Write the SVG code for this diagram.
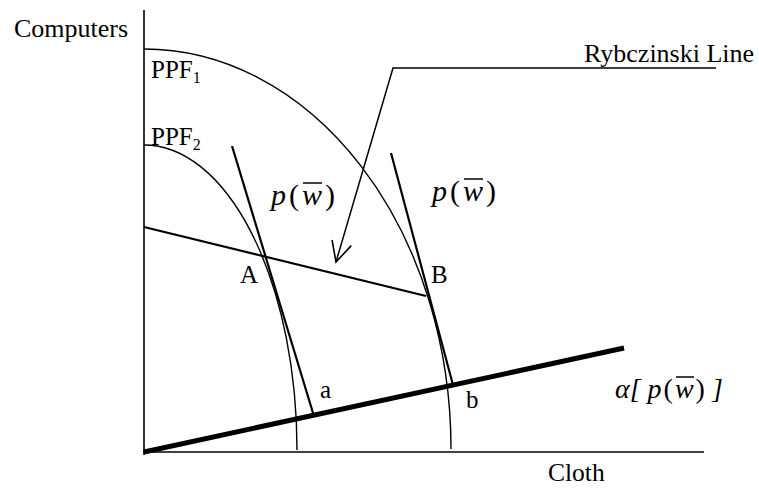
<svg xmlns="http://www.w3.org/2000/svg" width="759" height="489" viewBox="0 0 759 489">
<style>
  .t { font-family: "Liberation Serif", "Times New Roman", serif; fill: #000; }
  .lbl { font-size: 25px; }
  .big { font-size: 26px; }
  .sub { font-size: 16px; }
  .eq { font-size: 30px; font-style: italic; }
  .up { font-style: normal; }
  .ln { fill: none; stroke: #000; stroke-linecap: butt; }
  .axis { stroke-width: 1.6; }
  .curve { stroke-width: 1.4; }
  .med { stroke-width: 2.2; }
  .thick { stroke-width: 5; }
  .thin { stroke-width: 1.5; }
</style>
<defs>
  <marker id="openArrow" viewBox="0 0 24 22" refX="22" refY="11" markerWidth="24" markerHeight="22" markerUnits="userSpaceOnUse" orient="auto">
    <path d="M2,1 L22,11 L2,21" fill="none" stroke="#000" stroke-width="1.6"/>
  </marker>
</defs>
<rect width="759" height="489" fill="#fff"/>

<g id="axes">
  <line class="ln axis" x1="144" y1="10" x2="144" y2="455"/>
  <line class="ln axis" x1="143" y1="452" x2="704" y2="452"/>
  <text class="t big" x="14" y="37">Computers</text>
  <text class="t lbl" x="548" y="481" style="font-size:25.5px">Cloth</text>
</g>

<g id="ppf1">
  <path class="ln curve" d="M144,49 A307,400 0 0 1 451,449"/>
  <text class="t lbl" x="151" y="78">PPF<tspan class="sub" dy="5">1</tspan></text>
</g>

<g id="ppf2">
  <path class="ln curve" d="M144,145 A153,305 0 0 1 297,450"/>
  <text class="t lbl" x="151" y="145">PPF<tspan class="sub" dy="5">2</tspan></text>
</g>

<g id="point-A">
  <text class="t lbl" x="240" y="283">A</text>
</g>
<g id="point-B">
  <text class="t lbl" x="431" y="283">B</text>
</g>
<g id="point-a">
  <text class="t lbl" x="320" y="398">a</text>
</g>
<g id="point-b">
  <text class="t lbl" x="466" y="408">b</text>
</g>

<g id="price-label-1">
  <text class="t eq" x="271" y="205">p<tspan class="up" dx="3">(</tspan><tspan dx="3">w</tspan><tspan class="up" dx="3">)</tspan></text>
  <line class="ln thin" x1="303" y1="183" x2="322" y2="183"/>
</g>
<g id="price-label-2">
  <text class="t eq" x="432" y="201">p<tspan class="up" dx="3">(</tspan><tspan dx="3">w</tspan><tspan class="up" dx="3">)</tspan></text>
  <line class="ln thin" x1="464" y1="179" x2="483" y2="179"/>
</g>

<g id="alpha-label">
  <text class="t eq" x="615" y="398" style="font-size:28px">α[ p<tspan class="up" dx="2">(</tspan><tspan dx="2">w</tspan><tspan class="up" dx="2">)</tspan> ]</text>
  <line class="ln thin" x1="676" y1="377" x2="694" y2="377"/>
</g>

<g id="rybczinski-label">
  <text class="t big" x="584" y="62">Rybczinski Line</text>
</g>

<g id="connectors">
  <line class="ln med" x1="144" y1="227" x2="426" y2="296"/>
  <line class="ln med" x1="232" y1="146" x2="313" y2="413"/>
  <line class="ln med" x1="391" y1="153" x2="453" y2="385"/>
  <line class="ln thick" x1="144" y1="452" x2="624" y2="348"/>
  <polyline class="ln thin" points="716,68 393,68 336,262" marker-end="url(#openArrow)"/>
</g>
</svg>
